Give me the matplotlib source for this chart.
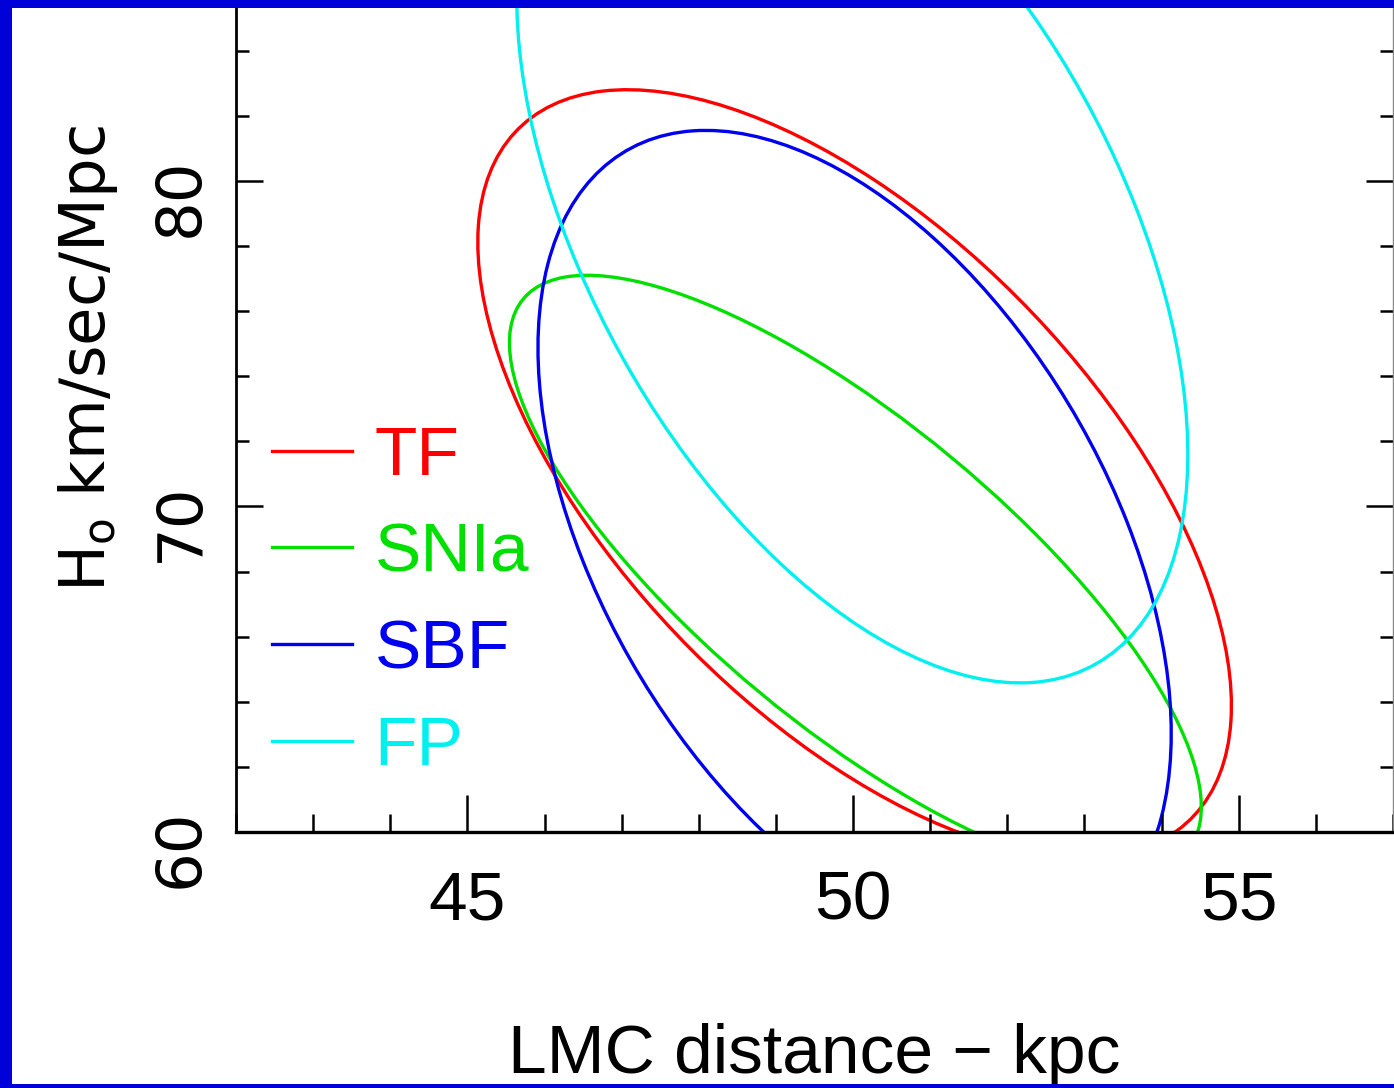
import numpy as np
import matplotlib
matplotlib.use('Agg')
import matplotlib.pyplot as plt
from matplotlib.patches import Ellipse, Rectangle
from matplotlib.lines import Line2D
from matplotlib.ticker import MultipleLocator

# Contours: centre, half extent in each axis, correlation.
methods = ['TF', 'SNIa', 'SBF', 'FP']
colors = ['#ff0000', '#00e000', '#0000f0', '#00f0f0']
center_dist = [50.02, 50.03, 50.02, 49.99]   # LMC distance, kpc
center_h0 = [71.0, 67.9, 68.95, 78.62]       # km/sec/Mpc
half_dist = [4.885, 4.485, 4.105, 4.35]
half_h0 = [11.8, 9.2, 12.6, 14.04]
corr = [-0.603, -0.775, -0.47, -0.5]

x_ticks = [45, 50, 55]
x_tick_labels = ['45', '50', '55']
y_ticks = [60, 70, 80]
y_tick_labels = ['60', '70', '80']

plt.rcParams['mathtext.fontset'] = 'custom'
plt.rcParams['mathtext.rm'] = 'DejaVu Sans'
sans = ['Liberation Sans', 'DejaVu Sans']
slide_blue = '#0000d8'

fig = plt.figure(figsize=(13.94, 10.88), dpi=100)
fig.patch.set_facecolor('white')
ax = fig.add_axes([236 / 1394, 256 / 1088, 1157 / 1394, 824 / 1088])

for cx, cy, sx, sy, r, c in zip(center_dist, center_h0, half_dist, half_h0, corr, colors):
    cov = np.array([[sx ** 2, r * sx * sy], [r * sx * sy, sy ** 2]])
    vals, vecs = np.linalg.eigh(cov)
    ang = np.degrees(np.arctan2(vecs[1, 1], vecs[0, 1]))
    ax.add_patch(Ellipse((cx, cy), 2 * np.sqrt(vals[1]), 2 * np.sqrt(vals[0]),
                         angle=ang, fill=False, edgecolor=c, lw=2.4))

ax.set_xlim(42, 57)
ax.set_ylim(60, 85.31)

ax.set_xticks(x_ticks)
ax.set_xticklabels(x_tick_labels, fontfamily=sans, fontsize=50)
ax.set_yticks(y_ticks)
ax.set_yticklabels(y_tick_labels, fontfamily='DejaVu Sans', fontsize=45)
ax.xaxis.set_minor_locator(MultipleLocator(1))
ax.yaxis.set_minor_locator(MultipleLocator(2))

ax.tick_params(axis='x', which='major', direction='in', length=27, width=1.8, pad=27)
ax.tick_params(axis='x', which='minor', direction='in', length=13, width=1.8)
ax.tick_params(axis='y', which='major', direction='in', length=19.5, width=1.8,
               left=True, right=True, labelrotation=90, pad=18)
ax.tick_params(axis='y', which='minor', direction='in', length=9.5, width=1.8,
               left=True, right=True)

ax.spines['top'].set_visible(False)
ax.spines['left'].set_linewidth(2.0)
ax.spines['bottom'].set_linewidth(2.4)
ax.spines['right'].set_linewidth(1.0)
ax.spines['right'].set_color('#888888')

ax.set_xlabel('LMC distance \u2212 kpc', fontsize=50, fontfamily=sans)
ax.xaxis.set_label_coords(0.5, -0.232)
ax.set_ylabel('H$_{\\rm o}$ km/sec/Mpc', fontsize=45, fontfamily='DejaVu Sans')
ax.yaxis.set_label_coords(-0.10, 0.575)

handles = [Line2D([], [], color=c, lw=2.4) for c in colors]
ax.legend(handles, methods, loc='center left', bbox_to_anchor=(0.031, 0.279),
          frameon=False, handlelength=1.15, handletextpad=0.33, labelspacing=0.47,
          borderpad=0, borderaxespad=0, labelcolor='linecolor',
          prop={'family': sans, 'size': 50})

# slide frame
for x0, y0, w, h in [(0, 0, 12 / 1394, 1), (0, 1 - 8 / 1088, 1, 8 / 1088), (0, 0, 1, 4 / 1088)]:
    fig.add_artist(Rectangle((x0, y0), w, h, transform=fig.transFigure,
                             facecolor=slide_blue, edgecolor='none', zorder=100))

fig.savefig('out.png', dpi=100)
